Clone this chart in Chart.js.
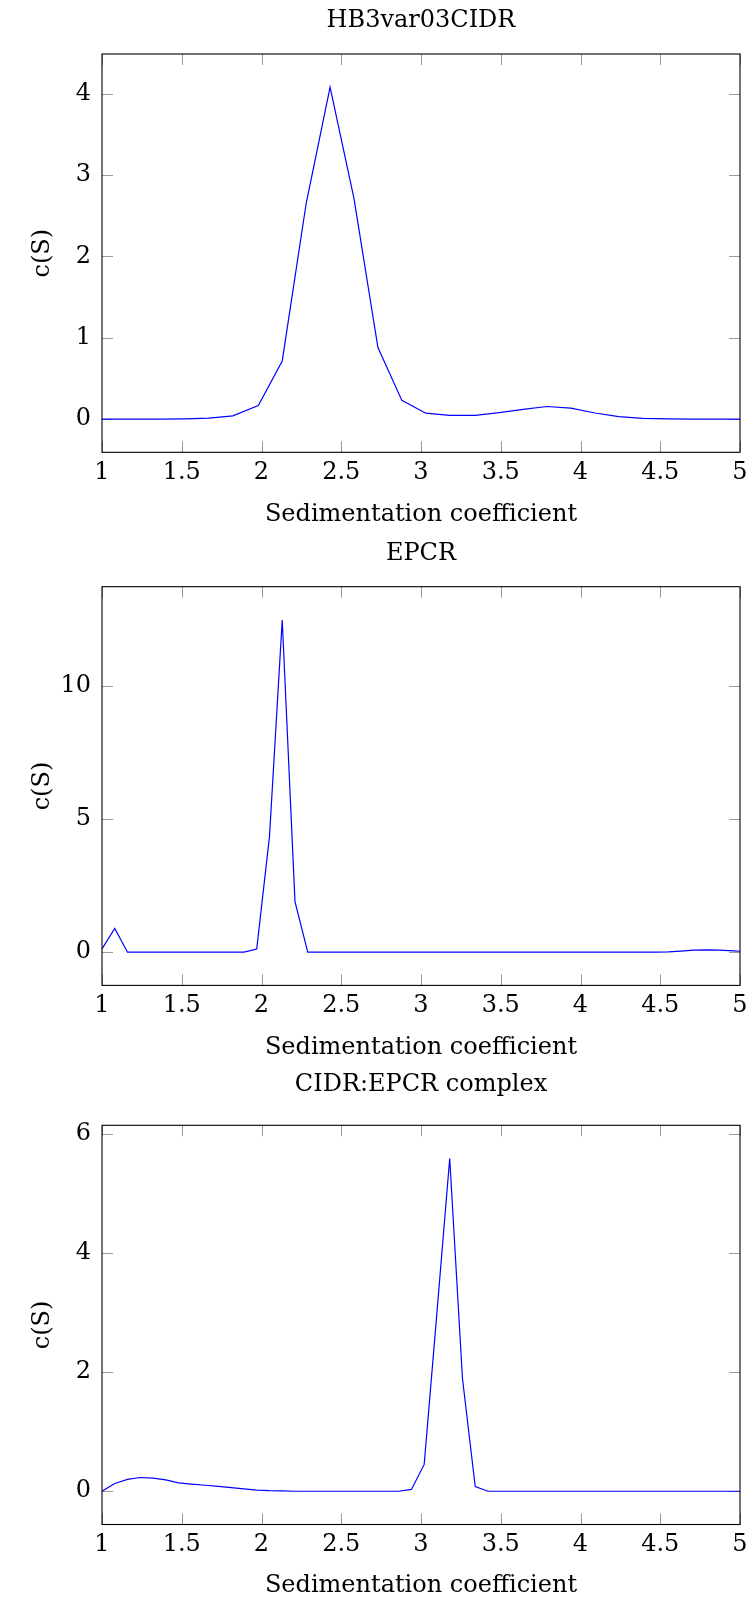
<!DOCTYPE html>
<html>
<head>
<meta charset="utf-8">
<script src="https://cdn.jsdelivr.net/npm/chart.js@4.4.1/dist/chart.umd.min.js"></script>
<style>
  html, body { margin: 0; padding: 0; background: #fff; }
  body { width: 751px; height: 1599px; position: relative; overflow: hidden; }
  canvas { position: absolute; left: 0; }
</style>
</head>
<body>
<canvas id="c1" width="751" height="529" style="top:0px"></canvas>
<canvas id="c2" width="751" height="533" style="top:529px"></canvas>
<canvas id="c3" width="751" height="537" style="top:1062px"></canvas>
<script>
// ─── data ────────────────────────────────────────────────────────────────────
const xTitle = 'Sedimentation coefficient';
const yTitle = 'c(S)';
const xTicks = [1, 1.5, 2, 2.5, 3, 3.5, 4, 4.5, 5];

// HB3var03CIDR
const sGrid1 = [0.92, 1.07, 1.22, 1.37, 1.52, 1.67, 1.82, 1.98, 2.13, 2.28,
                2.43, 2.58, 2.73, 2.88, 3.03, 3.18, 3.34, 3.49, 3.64, 3.79,
                3.94, 4.09, 4.24, 4.39, 4.55, 4.70, 4.85, 5.00];
const cidr   = [0, 0, 0, 0, 0.003, 0.012, 0.04, 0.167, 0.715, 2.65,
                4.08, 2.71, 0.88, 0.23, 0.073, 0.045, 0.047, 0.08, 0.12, 0.155,
                0.135, 0.075, 0.03, 0.01, 0.003, 0, 0, 0];
const yTicks1 = [0, 1, 2, 3, 4];

// EPCR and CIDR:EPCR complex share a grid
const sGrid2 = [1.00, 1.08, 1.16, 1.24, 1.32, 1.40, 1.48, 1.56, 1.65, 1.73,
                1.81, 1.89, 1.97, 2.05, 2.13, 2.21, 2.29, 2.37, 2.45, 2.53,
                2.61, 2.69, 2.78, 2.86, 2.94, 3.02, 3.10, 3.18, 3.26, 3.34,
                3.42, 3.50, 3.58, 3.66, 3.74, 3.82, 3.91, 3.99, 4.07, 4.15,
                4.23, 4.31, 4.39, 4.47, 4.55, 4.63, 4.71, 4.79, 4.87, 4.96,
                5.04];
const epcr   = [0.12, 0.89, 0, 0, 0, 0, 0, 0, 0, 0,
                0, 0, 0.12, 4.34, 12.48, 1.9, 0, 0, 0, 0,
                0, 0, 0, 0, 0, 0, 0, 0, 0, 0,
                0, 0, 0, 0, 0, 0, 0, 0, 0, 0,
                0, 0, 0, 0, 0.01, 0.04, 0.08, 0.09, 0.08, 0.05,
                0.02];
const yTicks2 = [0, 5, 10];

const cplx   = [0, 0.13, 0.20, 0.23, 0.22, 0.19, 0.14, 0.12, 0.10, 0.08,
                0.06, 0.04, 0.02, 0.01, 0.005, 0, 0, 0, 0, 0,
                0, 0, 0, 0, 0.03, 0.45, 3.0, 5.58, 1.89, 0.08,
                0, 0, 0, 0, 0, 0, 0, 0, 0, 0,
                0, 0, 0, 0, 0, 0, 0, 0, 0, 0,
                0];
const yTicks3 = [0, 2, 4, 6];

// ─── look ────────────────────────────────────────────────────────────────────
Chart.defaults.font.family = "'DejaVu Serif', serif";
Chart.defaults.font.size = 24;
Chart.defaults.color = '#000';

// pgfplots style: inward ticks on all four sides (under the curve), box on top
const frame = {
  id: 'frame',
  beforeDatasetsDraw(chart) {
    const { ctx, chartArea: a, scales: { x, y } } = chart;
    const len = 11;
    ctx.save();
    ctx.strokeStyle = '#9a9a9a';
    ctx.lineWidth = 1;
    ctx.beginPath();
    x.ticks.forEach(t => {
      const px = Math.round(x.getPixelForValue(t.value)) + 0.5;
      ctx.moveTo(px, a.top); ctx.lineTo(px, a.top + len);
      ctx.moveTo(px, a.bottom); ctx.lineTo(px, a.bottom - len);
    });
    y.ticks.forEach(t => {
      const py = Math.round(y.getPixelForValue(t.value)) + 0.5;
      ctx.moveTo(a.left, py); ctx.lineTo(a.left + len, py);
      ctx.moveTo(a.right, py); ctx.lineTo(a.right - len, py);
    });
    ctx.stroke();
    ctx.restore();
  },
  afterDatasetsDraw(chart) {
    const { ctx, chartArea: a } = chart;
    ctx.save();
    ctx.strokeStyle = '#000';
    ctx.lineWidth = 1.1;
    ctx.strokeRect(a.left, a.top, a.right - a.left, a.bottom - a.top);
    ctx.restore();
  }
};

function makeChart(id, title, xs, ys, yTicks, lay) {
  const lo = Math.min(...ys), hi = Math.max(...ys);
  const pad = 0.1 * (hi - lo);   // pgfplots "enlarge y limits"
  return new Chart(document.getElementById(id), {
    type: 'line',
    data: {
      datasets: [{
        data: xs.map((x, i) => ({ x, y: ys[i] })),
        borderColor: '#0000ff',
        borderWidth: 1.2,
        pointRadius: 0,
        tension: 0,
        fill: false
      }]
    },
    options: {
      responsive: false,
      animation: false,
      devicePixelRatio: 1,
      layout: { padding: { left: 0, right: 11, top: 0, bottom: 0 } },
      plugins: {
        legend: { display: false },
        tooltip: { enabled: false },
        title: {
          display: true, text: title, color: '#000', fullSize: false,
          font: { size: 24, weight: 'normal' },
          padding: { top: lay.tTop, bottom: lay.tBot }
        }
      },
      scales: {
        x: {
          type: 'linear', min: 1, max: 5,
          afterBuildTicks: s => { s.ticks = xTicks.map(value => ({ value })); },
          // fixed height, and no extra room asked for the end labels
          afterFit: s => { s.height = lay.xH; s.paddingLeft = 0; s.paddingRight = 0; },
          ticks: { padding: 6, maxRotation: 0, autoSkip: false, callback: v => String(v) },
          grid: { drawOnChartArea: false, drawTicks: false },
          border: { display: false },
          title: { display: true, text: xTitle, padding: { top: 0, bottom: lay.xtBot } }
        },
        y: {
          type: 'linear', min: lo - pad, max: hi + pad,
          afterBuildTicks: s => { s.ticks = yTicks.map(value => ({ value })); },
          afterFit: s => { s.width = 102; s.paddingTop = 0; s.paddingBottom = 0; },
          ticks: { padding: 11, autoSkip: false, callback: v => String(v) },
          grid: { drawOnChartArea: false, drawTicks: false },
          border: { display: false },
          title: { display: true, text: yTitle, padding: { top: 28.6, bottom: 0 } }
        }
      }
    },
    plugins: [frame]
  });
}

makeChart('c1', 'HB3var03CIDR', sGrid1, cidr, yTicks1, { tTop: 6.8, tBot: 18.4, xH: 76.7, xtBot: 0 });
makeChart('c2', 'EPCR', sGrid2, epcr, yTicks2, { tTop: 10.2, tBot: 18.7, xH: 76.6, xtBot: 0 });
makeChart('c3', 'CIDR:EPCR complex', sGrid2, cplx, yTicks3, { tTop: 8.8, tBot: 25.7, xH: 74.5, xtBot: -1 });
</script>
</body>
</html>
